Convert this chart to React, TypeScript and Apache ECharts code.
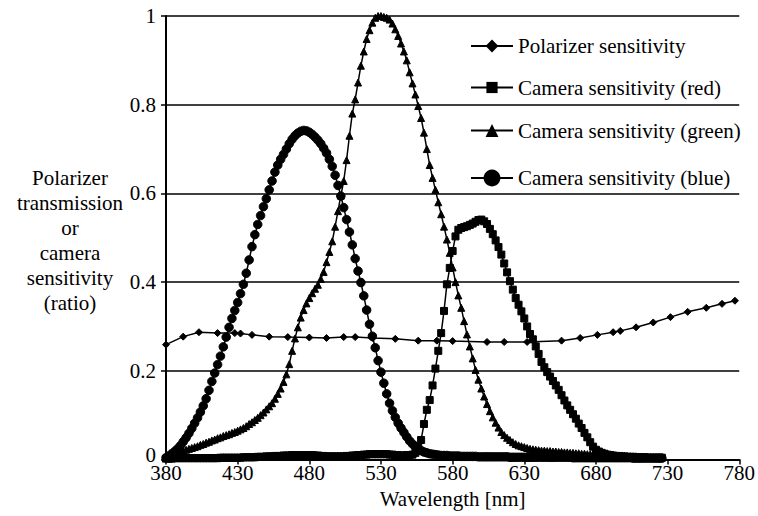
import React, { useEffect, useRef } from "react";
import * as echarts from "echarts";

// Wavelength grid (nm) on which the camera sensitivities are sampled
const cameraWavelengths: number[] = Array.from({ length: 174 }, (_, i) => 380 + 2 * i);

const blueSensitivity: number[] = [
  0.004, 0.008, 0.013, 0.018, 0.024, 0.031, 0.040, 0.049, 0.059, 0.070,
  0.082, 0.094, 0.107, 0.121, 0.137, 0.156, 0.176, 0.195, 0.214, 0.233,
  0.254, 0.276, 0.298, 0.318, 0.336, 0.354, 0.374, 0.395, 0.420, 0.450,
  0.480, 0.507, 0.530, 0.550, 0.570, 0.588, 0.608, 0.628, 0.648, 0.664,
  0.677, 0.688, 0.700, 0.712, 0.722, 0.730, 0.736, 0.740, 0.742, 0.741,
  0.738, 0.733, 0.727, 0.720, 0.712, 0.702, 0.691, 0.677, 0.661, 0.641,
  0.618, 0.594, 0.568, 0.541, 0.513, 0.484, 0.453, 0.425, 0.399, 0.369,
  0.337, 0.305, 0.278, 0.252, 0.223, 0.197, 0.172, 0.148, 0.127, 0.110,
  0.095, 0.082, 0.071, 0.061, 0.051, 0.042, 0.035, 0.029, 0.024, 0.020,
  0.017, 0.015, 0.013, 0.012, 0.011, 0.010, 0.009, 0.009, 0.009, 0.008,
  0.008, 0.008, 0.008, 0.007, 0.007, 0.007, 0.007, 0.007, 0.007, 0.006,
  0.006, 0.006, 0.006, 0.006, 0.006, 0.006, 0.006, 0.006, 0.006, 0.006,
  0.005, 0.005, 0.005, 0.005, 0.005, 0.005, 0.005, 0.005, 0.005, 0.005,
  0.005, 0.005, 0.005, 0.005, 0.005, 0.005, 0.005, 0.005, 0.005, 0.005,
  0.005, 0.005, 0.004, 0.004, 0.004, 0.004, 0.004, 0.004, 0.004, 0.004,
  0.004, 0.004, 0.004, 0.004, 0.004, 0.004, 0.004, 0.004, 0.004, 0.004,
  0.004, 0.004, 0.004, 0.003, 0.003, 0.003, 0.003, 0.003, 0.003, 0.003,
  0.003, 0.003, 0.003, 0.003,
];

const greenSensitivity: number[] = [
  0.004, 0.007, 0.010, 0.013, 0.016, 0.018, 0.020, 0.022, 0.024, 0.026,
  0.028, 0.030, 0.033, 0.035, 0.038, 0.040, 0.043, 0.045, 0.048, 0.050,
  0.053, 0.055, 0.057, 0.060, 0.062, 0.065, 0.068, 0.071, 0.075, 0.080,
  0.084, 0.089, 0.094, 0.100, 0.106, 0.113, 0.120, 0.127, 0.137, 0.148,
  0.160, 0.175, 0.192, 0.215, 0.245, 0.273, 0.298, 0.320, 0.337, 0.352,
  0.364, 0.375, 0.385, 0.394, 0.407, 0.423, 0.445, 0.468, 0.492, 0.525,
  0.560, 0.595, 0.628, 0.675, 0.730, 0.780, 0.812, 0.850, 0.888, 0.920,
  0.948, 0.968, 0.985, 0.996, 1.000, 1.000, 0.998, 0.996, 0.992, 0.983,
  0.970, 0.955, 0.938, 0.920, 0.900, 0.873, 0.848, 0.823, 0.797, 0.770,
  0.737, 0.700, 0.664, 0.635, 0.608, 0.580, 0.553, 0.525, 0.496, 0.466,
  0.433, 0.400, 0.370, 0.342, 0.312, 0.282, 0.255, 0.228, 0.202, 0.180,
  0.160, 0.142, 0.125, 0.109, 0.095, 0.083, 0.072, 0.062, 0.055, 0.049,
  0.044, 0.039, 0.035, 0.032, 0.030, 0.028, 0.026, 0.024, 0.023, 0.022,
  0.021, 0.020, 0.020, 0.019, 0.019, 0.018, 0.018, 0.017, 0.017, 0.016,
  0.016, 0.015, 0.015, 0.014, 0.014, 0.013, 0.013, 0.012, 0.012, 0.012,
  0.011, 0.011, 0.010, 0.010, 0.010, 0.009, 0.009, 0.009, 0.008, 0.008,
  0.008, 0.007, 0.007, 0.007, 0.007, 0.006, 0.006, 0.006, 0.006, 0.005,
  0.005, 0.005, 0.005, 0.005,
];

const redSensitivity: number[] = [
  0.002, 0.002, 0.002, 0.003, 0.003, 0.003, 0.003, 0.003, 0.003, 0.003,
  0.003, 0.003, 0.003, 0.003, 0.003, 0.003, 0.003, 0.003, 0.003, 0.004,
  0.004, 0.004, 0.004, 0.004, 0.004, 0.004, 0.004, 0.005, 0.005, 0.005,
  0.005, 0.005, 0.006, 0.006, 0.006, 0.007, 0.007, 0.007, 0.008, 0.008,
  0.008, 0.009, 0.009, 0.009, 0.010, 0.010, 0.010, 0.010, 0.010, 0.010,
  0.010, 0.010, 0.009, 0.009, 0.008, 0.008, 0.007, 0.007, 0.007, 0.007,
  0.007, 0.007, 0.007, 0.008, 0.008, 0.009, 0.009, 0.010, 0.010, 0.011,
  0.011, 0.012, 0.012, 0.012, 0.012, 0.012, 0.012, 0.012, 0.011, 0.011,
  0.010, 0.010, 0.009, 0.009, 0.010, 0.010, 0.011, 0.015, 0.028, 0.044,
  0.080, 0.112, 0.134, 0.167, 0.205, 0.245, 0.285, 0.335, 0.395, 0.432,
  0.470, 0.503, 0.518, 0.522, 0.524, 0.526, 0.529, 0.532, 0.536, 0.540,
  0.541, 0.537, 0.531, 0.520, 0.508, 0.494, 0.479, 0.462, 0.442, 0.422,
  0.402, 0.383, 0.364, 0.349, 0.334, 0.318, 0.300, 0.283, 0.271, 0.255,
  0.238, 0.220, 0.208, 0.197, 0.187, 0.177, 0.167, 0.157, 0.145, 0.133,
  0.122, 0.112, 0.102, 0.092, 0.081, 0.071, 0.060, 0.050, 0.039, 0.029,
  0.022, 0.018, 0.015, 0.013, 0.011, 0.010, 0.009, 0.008, 0.008, 0.007,
  0.007, 0.006, 0.006, 0.006, 0.005, 0.005, 0.005, 0.005, 0.004, 0.004,
  0.004, 0.004, 0.004, 0.004,
];

const polarizerWavelengths: number[] = [
  380, 392, 403, 416, 428, 432, 440, 452, 465, 480, 492, 504, 512, 524, 540,
  556, 569, 580, 604, 616, 632, 656, 669, 681, 692, 697, 708, 720, 732, 744,
  757, 768, 777,
];
const polarizerValues: number[] = [
  0.259, 0.277, 0.287, 0.285, 0.285, 0.284, 0.281, 0.277, 0.276, 0.275, 0.274,
  0.276, 0.276, 0.274, 0.272, 0.268, 0.268, 0.267, 0.265, 0.265, 0.265, 0.268,
  0.274, 0.281, 0.287, 0.290, 0.298, 0.309, 0.321, 0.333, 0.342, 0.351, 0.358,
];

const seriesNames = [
  "Polarizer sensitivity",
  "Camera sensitivity (red)",
  "Camera sensitivity (green)",
  "Camera sensitivity (blue)",
];

const yTitle = "Polarizer\ntransmission\nor\ncamera\nsensitivity\n(ratio)";
const xTitle = "Wavelength [nm]";

export default function App() {
  const ref = useRef<HTMLDivElement>(null);
  useEffect(() => {
    if (!ref.current) return;
    const chart = echarts.init(ref.current, null, { renderer: "svg" });
    const font = "Liberation Serif";
    const pair = (xs: number[], ys: number[]) => xs.map((x, i) => [x, ys[i]]);
    const legendCenters = [43.5, 84, 128, 178];
    const legendHeights = [16, 14, 16, 21];
    const symbols = ["diamond", "rect", "triangle", "circle"];
    const symbolSizes = [7, 7, 7, 8.5];
    const datasets = [
      pair(polarizerWavelengths, polarizerValues),
      pair(cameraWavelengths, redSensitivity),
      pair(cameraWavelengths, greenSensitivity),
      pair(cameraWavelengths, blueSensitivity),
    ];
    chart.setOption({
      animation: false,
      backgroundColor: "#ffffff",
      grid: { left: 166, right: 13, top: 16, bottom: 56.5 },
      xAxis: {
        type: "value",
        min: 380,
        max: 780,
        interval: 50,
        name: xTitle,
        nameLocation: "middle",
        nameGap: 27,
        nameTextStyle: { fontFamily: font, fontSize: 21, color: "#000" },
        axisLine: { show: true, onZero: false, lineStyle: { color: "#000", width: 2 } },
        axisTick: { show: true, length: 5, lineStyle: { color: "#000", width: 1.5 } },
        axisLabel: { margin: 3, fontFamily: font, fontSize: 21, color: "#000" },
        splitLine: { show: false },
      },
      yAxis: {
        type: "value",
        min: 0,
        max: 1,
        interval: 0.2,
        axisLine: { show: true, lineStyle: { color: "#000", width: 2 } },
        axisTick: { show: true, length: 5, lineStyle: { color: "#000", width: 1.5 } },
        axisLabel: {
          margin: 10,
          fontFamily: font,
          fontSize: 21,
          color: "#000",
          formatter: (v: number) => (v === 0 ? "{z|0}" : String(v)),
          rich: {
            z: { fontFamily: font, fontSize: 21, color: "#000", padding: [0, 0, 9, 0] },
          },
        },
        splitLine: { show: true, lineStyle: { color: "#000", width: 1.5 } },
      },
      legend: seriesNames.map((name, i) => ({
        data: [name],
        left: 470,
        top: legendCenters[i] - legendHeights[i] / 2,
        padding: 0,
        itemWidth: 42,
        itemHeight: legendHeights[i],
        textStyle: { fontFamily: font, fontSize: 21, color: "#000" },
      })),
      graphic: [
        {
          type: "text",
          x: 70,
          y: 240,
          style: {
            text: yTitle,
            fontFamily: font,
            fontSize: 21,
            lineHeight: 25,
            fill: "#000",
            align: "center",
            verticalAlign: "middle",
          },
        },
      ],
      series: seriesNames.map((name, i) => ({
        name,
        type: "line",
        data: datasets[i],
        symbol: symbols[i],
        symbolSize: symbolSizes[i],
        showAllSymbol: true,
        showSymbol: true,
        lineStyle: { color: "#000", width: 1.5 },
        itemStyle: { color: "#000", borderColor: "#000" },
        emphasis: { disabled: true },
      })),
    });
    return () => chart.dispose();
  }, []);
  return (
    <div
      ref={ref}
      style={{ position: "fixed", left: 0, top: 0, width: 758, height: 516 }}
    />
  );
}
